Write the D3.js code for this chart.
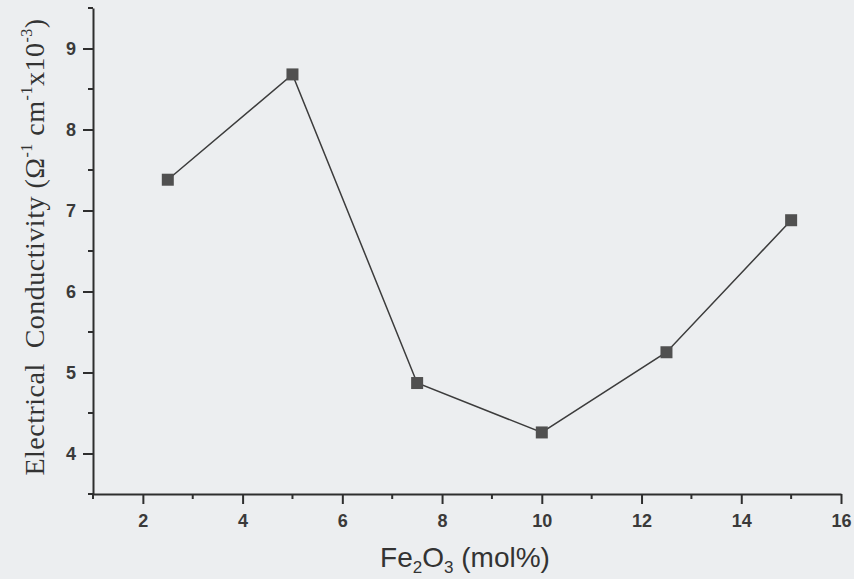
<!DOCTYPE html>
<html>
<head>
<meta charset="utf-8">
<script src="https://cdn.jsdelivr.net/npm/d3@7"></script>
<style>
  html, body { margin: 0; padding: 0; background: #eceef0; }
  svg { display: block; }
</style>
</head>
<body>
<svg id="chart"></svg>
<script>
// data
let fe2o3 = [2.5, 5, 7.5, 10, 12.5, 15];
let conductivity = [7.38, 8.68, 4.87, 4.26, 5.25, 6.88];
let xTicks = [2, 4, 6, 8, 10, 12, 14, 16];
let yTicks = [4, 5, 6, 7, 8, 9];

let width = 854, height = 579;
let margin = {top: 8, right: 13, bottom: 85, left: 93};

let svg = d3.select("#chart")
    .attr("width", width)
    .attr("height", height);

let x = d3.scaleLinear().domain([1, 16]).range([margin.left, width - margin.right]);
let y = d3.scaleLinear().domain([3.5, 9.5]).range([height - margin.bottom, margin.top]);

let ink = "#2e2e2e";
let sans = "'Liberation Sans', Arial, sans-serif";

// minor ticks (half steps)
let xMinor = d3.range(1, 16, 2);
let yMinor = d3.range(3.5, 9.6, 1);

let gx = svg.append("g")
    .attr("transform", "translate(0," + y(3.5) + ")");
gx.call(d3.axisBottom(x).tickValues(xTicks).tickSize(10).tickSizeOuter(0).tickFormat(d3.format("d")));
gx.append("g").selectAll("line")
    .data(xMinor)
    .join("line")
    .attr("x1", d => x(d)).attr("x2", d => x(d))
    .attr("y1", 0).attr("y2", 5)
    .attr("stroke", ink).attr("stroke-width", 2);

let gy = svg.append("g")
    .attr("transform", "translate(" + x(1) + ",0)");
gy.call(d3.axisLeft(y).tickValues(yTicks).tickSize(10).tickSizeOuter(0).tickFormat(d3.format("d")));
gy.append("g").selectAll("line")
    .data(yMinor)
    .join("line")
    .attr("y1", d => y(d)).attr("y2", d => y(d))
    .attr("x1", 0).attr("x2", -5)
    .attr("stroke", ink).attr("stroke-width", 2);

[gx, gy].forEach(function (g) {
    g.select(".domain").attr("stroke", ink).attr("stroke-width", 2);
    g.selectAll(".tick line").attr("stroke", ink).attr("stroke-width", 2);
    g.selectAll(".tick text")
        .attr("fill", "#3a3a3a")
        .attr("font-family", sans)
        .attr("font-weight", "bold")
        .attr("font-size", "18px");
});
gx.selectAll(".tick text").attr("y", 20).attr("dy", "0.71em");
gy.selectAll(".tick text").attr("x", -17);

// line and markers
let pts = fe2o3.map((v, i) => [v, conductivity[i]]);

svg.append("path")
    .datum(pts)
    .attr("fill", "none")
    .attr("stroke", "#3c3c3c")
    .attr("stroke-width", 1.5)
    .attr("d", d3.line().x(d => x(d[0])).y(d => y(d[1])));

svg.append("g").selectAll("rect")
    .data(pts)
    .join("rect")
    .attr("x", d => x(d[0]) - 6)
    .attr("y", d => y(d[1]) - 6)
    .attr("width", 12)
    .attr("height", 12)
    .attr("fill", "#505050");

// axis titles
svg.append("text")
    .attr("x", 465)
    .attr("y", 567)
    .attr("text-anchor", "middle")
    .attr("fill", "#333")
    .attr("font-family", sans)
    .attr("font-size", "28px")
    .call(function (t) {
        t.append("tspan").text("Fe");
        t.append("tspan").attr("font-size", "17px").attr("dy", 6).text("2");
        t.append("tspan").attr("dy", -6).text("O");
        t.append("tspan").attr("font-size", "17px").attr("dy", 6).text("3");
        t.append("tspan").attr("dy", -6).text(" (mol%)");
    });

svg.append("text")
    .attr("transform", "translate(44,247) rotate(-90)")
    .attr("text-anchor", "middle")
    .attr("fill", "#333")
    .attr("font-family", "'Liberation Serif', 'Times New Roman', serif")
    .attr("font-size", "28px")
    .attr("letter-spacing", "0.5px")
    .attr("xml:space", "preserve")
    .call(function (t) {
        t.append("tspan").text("Electrical  Conductivity (\u03A9");
        t.append("tspan").attr("font-size", "16px").attr("dy", -12).text("-1");
        t.append("tspan").attr("dy", 12).text(" cm");
        t.append("tspan").attr("font-size", "16px").attr("dy", -12).text("-1");
        t.append("tspan").attr("dy", 12).text("x10");
        t.append("tspan").attr("font-size", "16px").attr("dy", -12).text("-3");
        t.append("tspan").attr("dy", 12).text(")");
    });
</script>
</body>
</html>
